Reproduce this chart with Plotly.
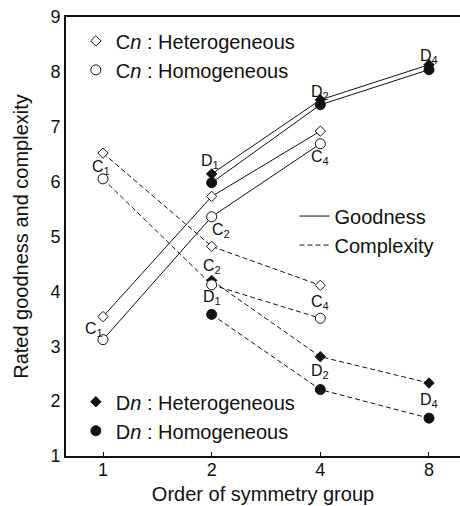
import math
import plotly.graph_objects as go

# ---------------- data ----------------
orders_c = [1, 2, 4]
orders_d = [2, 4, 8]
x_ticks = [1, 2, 4, 8]
x_tick_labels = ["1", "2", "4", "8"]

good_c_het = [3.54, 5.73, 6.92]
good_c_hom = [3.12, 5.36, 6.69]
good_d_het = [6.14, 7.49, 8.13]
good_d_hom = [5.98, 7.40, 8.04]

comp_c_het = [6.52, 4.82, 4.11]
comp_c_hom = [6.05, 4.12, 3.51]
comp_d_het = [4.20, 2.81, 2.33]
comp_d_hom = [3.58, 2.21, 1.69]

labels_c = ["C<sub>1</sub>", "C<sub>2</sub>", "C<sub>4</sub>"]
labels_d = ["D<sub>1</sub>", "D<sub>2</sub>", "D<sub>4</sub>"]

# ---------------- style ----------------
INK = "#111111"
FONT = "Liberation Sans, Arial, sans-serif"
DASH = "5px,3px"

series = [
    # name, x, y, symbol, fill, dash, size
    ("good_c_het", orders_c, good_c_het, "diamond", "white", "solid", 8),
    ("good_c_hom", orders_c, good_c_hom, "circle", "white", "solid", 10),
    ("good_d_het", orders_d, good_d_het, "diamond", INK, "solid", 8),
    ("good_d_hom", orders_d, good_d_hom, "circle", INK, "solid", 10),
    ("comp_c_het", orders_c, comp_c_het, "diamond", "white", DASH, 8),
    ("comp_d_het", orders_d, comp_d_het, "diamond", INK, DASH, 8),
    ("comp_c_hom", orders_c, comp_c_hom, "circle", "white", DASH, 10),
    ("comp_d_hom", orders_d, comp_d_hom, "circle", INK, DASH, 10),
]

fig = go.Figure()
data_by_name = {}
for name, xs, ys, sym, fill, dash, size in series:
    data_by_name[name] = (xs, ys)
    fig.add_trace(go.Scatter(
        x=xs, y=ys, mode="lines+markers", showlegend=False, hoverinfo="skip",
        line=dict(color=INK, width=1, dash=dash),
        marker=dict(symbol=sym, size=size, color=fill, line=dict(color=INK, width=1)),
    ))

# point labels: (series, index, label list, dx, dy) -- offsets in px
point_labels = [
    ("good_c_het", 0, labels_c, -9, -13),
    ("comp_c_het", 0, labels_c, -2, -14),
    ("good_d_het", 0, labels_d, -2, 12),
    ("good_c_hom", 1, labels_c, 9, -14),
    ("comp_c_hom", 1, labels_c, 0, 18),
    ("comp_d_hom", 0, labels_d, 0, 17),
    ("comp_c_het", 2, labels_c, 0, -17),
    ("good_c_hom", 2, labels_c, 0, -14),
    ("good_d_het", 1, labels_d, 0, 7),
    ("good_d_het", 2, labels_d, 0, 8),
    ("comp_d_hom", 1, labels_d, 0, 18),
    ("comp_d_hom", 2, labels_d, 0, 18),
]
for name, i, labs, dx, dy in point_labels:
    xs, ys = data_by_name[name]
    fig.add_annotation(
        x=math.log10(xs[i]), y=ys[i], xref="x", yref="y",
        text=labs[i], showarrow=False, xshift=dx, yshift=dy,
        font=dict(family=FONT, size=16, color=INK),
    )

# legend entries (markers only / line styles only)
leg_items = [
    ("legend", "C<i>n</i> : Heterogeneous", "diamond", "white", 8),
    ("legend", "C<i>n</i> : Homogeneous", "circle", "white", 10),
    ("legend3", "D<i>n</i> : Heterogeneous", "diamond", INK, 8),
    ("legend3", "D<i>n</i> : Homogeneous", "circle", INK, 10),
]
for leg, name, sym, fill, size in leg_items:
    fig.add_trace(go.Scatter(
        x=[None], y=[None], mode="markers", name=name, legend=leg,
        marker=dict(symbol=sym, size=size, color=fill, line=dict(color=INK, width=1)),
    ))
for name, dash in [("Goodness", "solid"), ("Complexity", DASH)]:
    fig.add_trace(go.Scatter(
        x=[None], y=[None], mode="lines", name=name, legend="legend2",
        line=dict(color=INK, width=1, dash=dash),
    ))

leg_common = dict(font=dict(family=FONT, size=20, color=INK), bgcolor="rgba(0,0,0,0)",
                  borderwidth=0, xanchor="left", yanchor="top", xref="paper", yref="paper",
                  tracegroupgap=0)

fig.update_layout(
    width=460, height=506,
    margin=dict(l=66, r=0, t=17, b=50),
    paper_bgcolor="white", plot_bgcolor="white",
    font=dict(family=FONT, color=INK),
    legend=dict(x=0.025, y=0.99, **leg_common),
    legend2=dict(x=0.58, y=0.591, **leg_common),
    legend3=dict(x=0.025, y=0.168, **leg_common),
    xaxis=dict(
        type="log", range=[-0.1025, 0.989],
        tickvals=x_ticks, ticktext=x_tick_labels,
        showline=True, linecolor=INK, linewidth=2, mirror=True,
        ticks="inside", ticklen=4, tickcolor=INK, tickwidth=1,
        ticklabelstandoff=-4,
        showgrid=False, zeroline=False,
        tickfont=dict(family=FONT, size=18, color=INK),
        title=dict(text="Order of symmetry group", font=dict(family=FONT, size=20, color=INK), standoff=8),
    ),
    yaxis=dict(
        range=[1, 9], dtick=1,
        showline=True, linecolor=INK, linewidth=2, mirror=False,
        ticks="", showgrid=False, zeroline=False,
        tickfont=dict(family=FONT, size=18, color=INK),
        title=dict(text="Rated goodness and complexity", font=dict(family=FONT, size=20, color=INK), standoff=16),
    ),
)

fig.write_html("out.html", config={"displayModeBar": False},
               post_script="document.body.style.margin='0';document.body.style.overflow='hidden';")
